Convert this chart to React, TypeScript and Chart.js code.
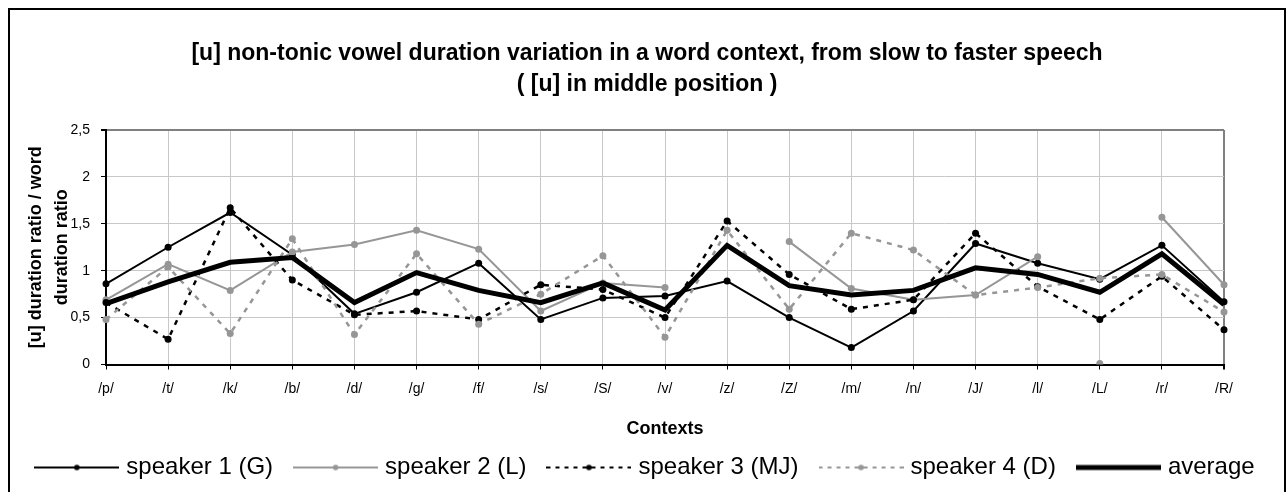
import React, { useEffect, useRef } from 'react';
import { Chart, registerables } from 'chart.js';

Chart.register(...registerables);

const FONT = '"Liberation Sans", Arial, Helvetica, sans-serif';

const titleLines = [
  '[u] non-tonic vowel duration variation in a word context, from slow to faster speech',
  '( [u] in middle position )',
];
const yAxisTitle = ['[u] duration ratio / word', 'duration ratio'];
const xAxisTitle = 'Contexts';

const categories = ['/p/', '/t/', '/k/', '/b/', '/d/', '/g/', '/f/', '/s/', '/S/', '/v/', '/z/', '/Z/', '/m/', '/n/', '/J/', '/l/', '/L/', '/r/', '/R/'];
const yTickLabels = ['0', '0,5', '1', '1,5', '2', '2,5'];

const seriesNames = ['speaker 1 (G)', 'speaker 2 (L)', 'speaker 3 (MJ)', 'speaker 4 (D)', 'average'];

const speaker1 = [0.86, 1.25, 1.62, 1.17, 0.54, 0.77, 1.08, 0.48, 0.71, 0.73, 0.89, 0.50, 0.18, 0.57, 1.29, 1.08, 0.91, 1.27, 0.67];
const speaker2 = [0.69, 1.07, 0.79, 1.20, 1.28, 1.43, 1.23, 0.57, 0.87, 0.82, null, 1.31, 0.81, 0.69, 0.74, 1.15, 0.01, 1.57, 0.85];
const speaker3 = [0.66, 0.27, 1.67, 0.90, 0.53, 0.57, 0.48, 0.85, 0.80, 0.50, 1.53, 0.96, 0.59, 0.69, 1.40, 0.83, 0.48, 0.94, 0.37];
const speaker4 = [0.48, 1.04, 0.33, 1.34, 0.32, 1.18, 0.43, 0.75, 1.16, 0.29, 1.43, 0.59, 1.40, 1.22, 0.74, 0.82, 0.92, 0.96, 0.56];
const average = [0.65, 0.88, 1.09, 1.14, 0.66, 0.98, 0.79, 0.66, 0.87, 0.58, 1.27, 0.84, 0.74, 0.79, 1.03, 0.96, 0.77, 1.18, 0.64];

// speaker 2: point plotted without connecting lines
const speaker2Unlinked = ['/L/'];

const BLACK = '#000000';
const GRAY = '#969696';

export default function App() {
  const ref = useRef<HTMLCanvasElement>(null);

  useEffect(() => {
    const canvas = ref.current;
    if (!canvas) return;

    const SAMPLE_W = 85;
    const makeSample = (color: string, width: number, dash: number[], marker: boolean) => {
      const c = document.createElement('canvas');
      c.width = SAMPLE_W;
      c.height = 12;
      const g = c.getContext('2d')!;
      g.strokeStyle = color;
      g.lineWidth = width;
      g.setLineDash(dash);
      g.beginPath();
      g.moveTo(0, 6);
      g.lineTo(SAMPLE_W, 6);
      g.stroke();
      if (marker) {
        g.setLineDash([]);
        g.fillStyle = color;
        g.beginPath();
        g.arc(SAMPLE_W / 2, 6, 2.8, 0, Math.PI * 2);
        g.fill();
      }
      return c;
    };

    const unlinkedIdx = speaker2Unlinked.map((c) => categories.indexOf(c));

    const samples = [
      makeSample(BLACK, 2, [], true),
      makeSample(GRAY, 2, [], true),
      makeSample(BLACK, 2, [4, 5], true),
      makeSample(GRAY, 2, [4, 5], true),
      makeSample(BLACK, 5, [], false),
    ];

    const chart = new Chart(canvas, {
      type: 'line',
      data: {
        labels: categories,
        datasets: [
          {
            label: seriesNames[0], data: speaker1, borderColor: BLACK, backgroundColor: BLACK,
            borderWidth: 2, pointRadius: 3.5, pointBackgroundColor: BLACK, pointBorderWidth: 0, order: 4,
          },
          {
            label: seriesNames[1], data: speaker2, borderColor: GRAY, backgroundColor: GRAY,
            borderWidth: 2, pointRadius: 3.5, pointBackgroundColor: GRAY, pointBorderWidth: 0, order: 3,
            segment: {
              borderColor: (ctx: any) =>
                unlinkedIdx.includes(ctx.p0DataIndex) || unlinkedIdx.includes(ctx.p1DataIndex) ? 'rgba(0,0,0,0)' : GRAY,
            },
          },
          {
            label: seriesNames[2], data: speaker3, borderColor: BLACK, backgroundColor: BLACK,
            borderWidth: 2.5, borderDash: [5, 6], pointRadius: 3.5, pointBackgroundColor: BLACK, pointBorderWidth: 0, order: 2,
          },
          {
            label: seriesNames[3], data: speaker4, borderColor: GRAY, backgroundColor: GRAY,
            borderWidth: 2.5, borderDash: [5, 6], pointRadius: 3.5, pointBackgroundColor: GRAY, pointBorderWidth: 0, order: 1,
          },
          {
            label: seriesNames[4], data: average, borderColor: BLACK, backgroundColor: BLACK,
            borderWidth: 5, pointRadius: 0, order: 0,
          },
        ],
      },
      options: {
        responsive: false,
        animation: false,
        spanGaps: false,
        layout: { padding: { left: 0, right: 0, top: 0, bottom: 2.5 } },
        plugins: {
          tooltip: { enabled: false },
          title: {
            display: true,
            text: titleLines,
            color: BLACK,
            font: { family: FONT, size: 23, weight: 'bold', lineHeight: 31 / 23 },
            padding: { top: 28.5, bottom: 29.5 },
          },
          legend: {
            display: true,
            position: 'bottom',
            align: 'center',
            labels: {
              usePointStyle: true,
              pointStyleWidth: SAMPLE_W - 10,
              boxHeight: 12,
              padding: 25,
              color: BLACK,
              font: { family: FONT, size: 24 },
              generateLabels: (ch: any) =>
                ch.data.datasets.map((ds: any, i: number) => ({
                  text: ds.label,
                  pointStyle: samples[i],
                  fillStyle: 'rgba(0,0,0,0)',
                  strokeStyle: 'rgba(0,0,0,0)',
                  lineWidth: 0,
                  hidden: false,
                  datasetIndex: i,
                  fontColor: BLACK,
                })),
            },
          },
        },
        scales: {
          x: {
            type: 'category',
            offset: false,
            afterFit: (s: any) => { s.height = 66; },
            grid: {
              display: true,
              drawTicks: true,
              tickLength: 5,
              tickColor: BLACK,
              color: (ctx: any) => (ctx.index === categories.length - 1 ? '#808080' : '#c8c8c8'),
              lineWidth: (ctx: any) => (ctx.index === categories.length - 1 ? 2 : 1),
            },
            border: { display: true, color: BLACK, width: 2 },
            ticks: {
              color: BLACK,
              padding: 11.6,
              maxRotation: 0,
              autoSkip: false,
              font: { family: FONT, size: 14 },
            },
            title: {
              display: true,
              text: xAxisTitle,
              color: BLACK,
              font: { family: FONT, size: 18, weight: 'bold', lineHeight: 1 },
              padding: { top: 0, bottom: -7.5 },
            },
          },
          y: {
            type: 'linear',
            position: 'left',
            min: 0,
            max: 2.5,
            afterFit: (s: any) => { s.width = 96; },
            grid: {
              display: true,
              drawTicks: true,
              tickLength: 5,
              tickColor: BLACK,
              color: (ctx: any) => (ctx.tick && ctx.tick.value === 2.5 ? '#808080' : '#c8c8c8'),
              lineWidth: (ctx: any) => (ctx.tick && ctx.tick.value === 2.5 ? 2 : 1),
            },
            border: { display: true, color: BLACK, width: 2 },
            ticks: {
              stepSize: 0.5,
              color: BLACK,
              padding: 11,
              font: { family: FONT, size: 14 },
              callback: (_v: any, i: number) => yTickLabels[i],
            },
            title: {
              display: true,
              text: yAxisTitle,
              color: BLACK,
              font: { family: FONT, size: 18, weight: 'bold', lineHeight: 26 / 18 },
              padding: { top: 13, bottom: 0 },
            },
          },
          yRight: {
            type: 'linear',
            position: 'right',
            display: true,
            afterFit: (s: any) => { s.width = 60; },
            grid: { display: false, drawTicks: false },
            border: { display: false },
            ticks: { display: false },
          },
        },
      },
    } as any);

    return () => chart.destroy();
  }, []);

  return (
    <div style={{ position: 'fixed', left: 0, top: 0, width: 1288, height: 492, overflow: 'hidden', background: '#fff' }}>
      <div
        style={{
          position: 'absolute', left: 8, top: 8, width: 1278, height: 500,
          boxSizing: 'border-box', border: '2px solid #000', background: '#fff',
        }}
      >
        <canvas ref={ref} width={1274} height={482} style={{ display: 'block', width: 1274, height: 482 }} />
      </div>
    </div>
  );
}
